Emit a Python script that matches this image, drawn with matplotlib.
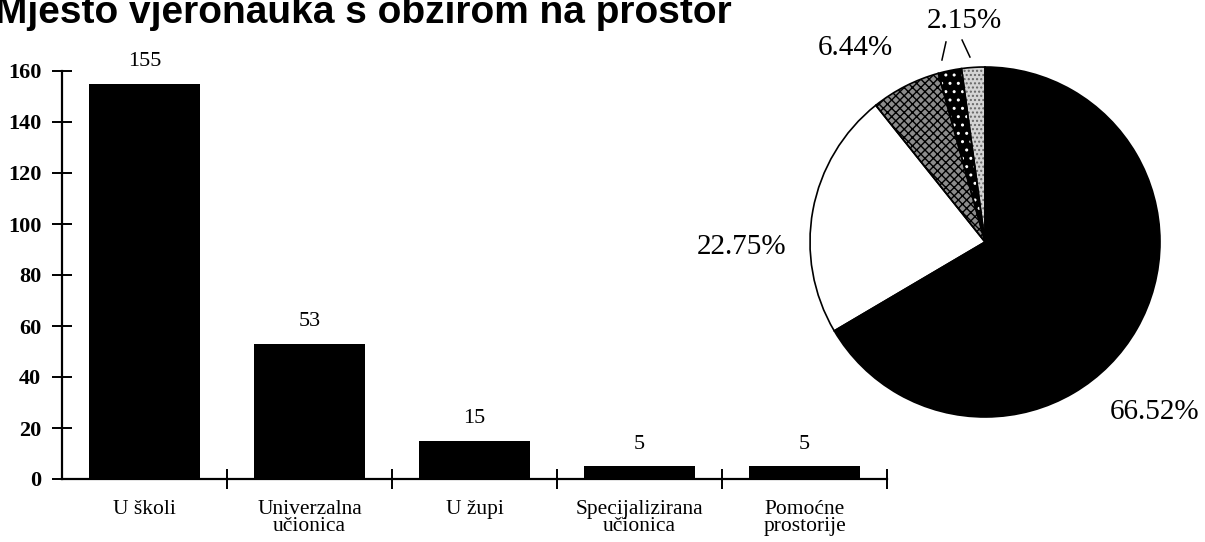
import matplotlib.pyplot as plt

# - DATA - #
categories = ["U školi", "Univerzalna\nučionica", "U župi",
              "Specijalizirana\nučionica", "Pomoćne\nprostorije"]
counts = [155, 53, 15, 5, 5]
yticks = [0, 20, 40, 60, 80, 100, 120, 140, 160]

shares = [100.0 * c / sum(counts) for c in counts]

serif = "Liberation Serif"

fig = plt.figure(figsize=(12.05, 5.42), dpi=100)
fig.patch.set_facecolor("white")

fig.text(-0.004, 0.957, "Mjesto vjeronauka s obzirom na prostor",
         family="Liberation Sans", weight="bold", fontsize=28,
         ha="left", va="baseline")

# - BAR CHART - #
ax = fig.add_axes([62 / 1205, 63 / 542, 825 / 1205, 408 / 542])
pos = list(range(len(categories)))
bars = ax.bar(pos, counts, width=0.67, color="black")
for b, c in zip(bars, counts):
    ax.annotate(str(c), (b.get_x() + b.get_width() / 2, c),
                xytext=(0, 9), textcoords="offset points",
                ha="center", va="bottom", family=serif, fontsize=16)

ax.set_xlim(-0.5, len(categories) - 0.5)
ax.set_ylim(0, 160)
ax.set_yticks(yticks)
ax.set_yticklabels([str(t) for t in yticks], family=serif,
                   fontsize=16, weight="bold")
ax.set_xticks(pos)
ax.set_xticklabels(categories, family=serif, fontsize=15.5, linespacing=0.9)
ax.set_xticks([p + 0.5 for p in pos], minor=True)
ax.tick_params(axis="x", which="major", length=0, pad=15)
ax.tick_params(axis="x", which="minor", direction="inout", length=14, width=1.4)
ax.tick_params(axis="y", direction="inout", length=14, width=1.4, pad=8)
for s in ["top", "right"]:
    ax.spines[s].set_visible(False)
for s in ["left", "bottom"]:
    ax.spines[s].set_linewidth(1.6)

# - PIE CHART - #
plt.rcParams["hatch.linewidth"] = 1.0
pax = fig.add_axes([810 / 1205, 125 / 542, 350 / 1205, 350 / 542])
fills = ["black", "white", "#8c8c8c", "black", "#d4d4d4"]
wedges, _ = pax.pie(counts, colors=fills, startangle=90, counterclock=False,
                    wedgeprops=dict(linewidth=0))
wedges[2].set_hatch("xxxx")
wedges[2].set_edgecolor("black")
wedges[3].set_hatch("..")
wedges[3].set_edgecolor("white")
wedges[4].set_hatch("....")
wedges[4].set_edgecolor("#666666")
# outlines drawn on top of the hatched fills
pax.pie(counts, startangle=90, counterclock=False,
        wedgeprops=dict(fill=False, edgecolor="black", linewidth=1.2))
pax.set_xlim(-1, 1)
pax.set_ylim(-1, 1)
pax.set_aspect("auto")
pax.axis("off")

label_xy = [(0.97, -0.97), (-1.39, -0.03), (-0.74, 1.11), None, (-0.12, 1.26)]
for (xy, pct) in zip(label_xy, shares):
    if xy is None:
        continue
    pax.text(xy[0], xy[1], f"{pct:.2f}%", family=serif, fontsize=21,
             ha="center", va="center")
pax.plot([-0.246, -0.223], [1.04, 1.143], color="black", lw=1.1, clip_on=False)
pax.plot([-0.131, -0.086], [1.154, 1.057], color="black", lw=1.1, clip_on=False)

plt.savefig("out.png", dpi=100, facecolor="white")
